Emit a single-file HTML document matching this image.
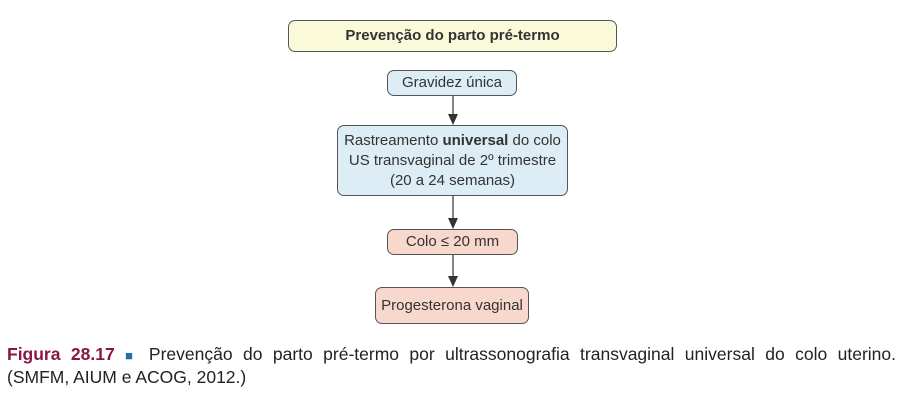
<!DOCTYPE html>
<html><head><meta charset="utf-8"><style>
body{margin:0;width:902px;height:401px;background:#fff;position:relative;font-family:"Liberation Sans",Arial,sans-serif;overflow:hidden}
.b{position:absolute;box-sizing:border-box;border:1.5px solid #555;border-radius:7px;display:flex;align-items:center;justify-content:center;text-align:center;color:#333;font-size:15px;line-height:20px}
.blue{background:#dcedf6}.pink{background:#f8d8cc}
.cap{position:absolute;left:7px;top:343px;width:889px;font-size:17.5px;color:#222;line-height:23px;text-align:justify;text-align-last:justify;white-space:nowrap}
</style></head><body>
<div class="b" style="left:288px;top:20px;width:329px;height:32px;background:#fafadb;font-weight:bold;font-size:15px"><div>Prevenção do parto pré-termo</div></div>
<div class="b blue" style="left:387px;top:70px;width:130px;height:26px"><div>Gravidez única</div></div>
<div class="b blue" style="left:337px;top:125px;width:231px;height:71px"><div>Rastreamento <b>universal</b> do colo<br>US transvaginal de 2º trimestre<br>(20 a 24 semanas)</div></div>
<div class="b pink" style="left:387px;top:229px;width:131px;height:26px"><div>Colo ≤ 20 mm</div></div>
<div class="b pink" style="left:375px;top:287px;width:154px;height:37px"><div>Progesterona vaginal</div></div>
<svg width="902" height="401" style="position:absolute;left:0;top:0">
<g stroke="#333" stroke-width="1.2" fill="#333">
<line x1="453" y1="96" x2="453" y2="116"/><polygon points="448,114 458,114 453,125" stroke="none"/>
<line x1="453" y1="196" x2="453" y2="220"/><polygon points="448,218 458,218 453,229" stroke="none"/>
<line x1="453" y1="255" x2="453" y2="278"/><polygon points="448,276 458,276 453,287" stroke="none"/>
</g></svg>
<div class="cap" style="white-space:normal"><b style="color:#8a1646">Figura 28.17</b> <span style="color:#1f6fa8;font-size:13px">■</span> Prevenção do parto pré-termo por ultrassonografia transvaginal universal do colo uterino.</div>
<div class="cap" style="top:366px;text-align:left;text-align-last:left">(SMFM, AIUM e ACOG, 2012.)</div>
</body></html>
